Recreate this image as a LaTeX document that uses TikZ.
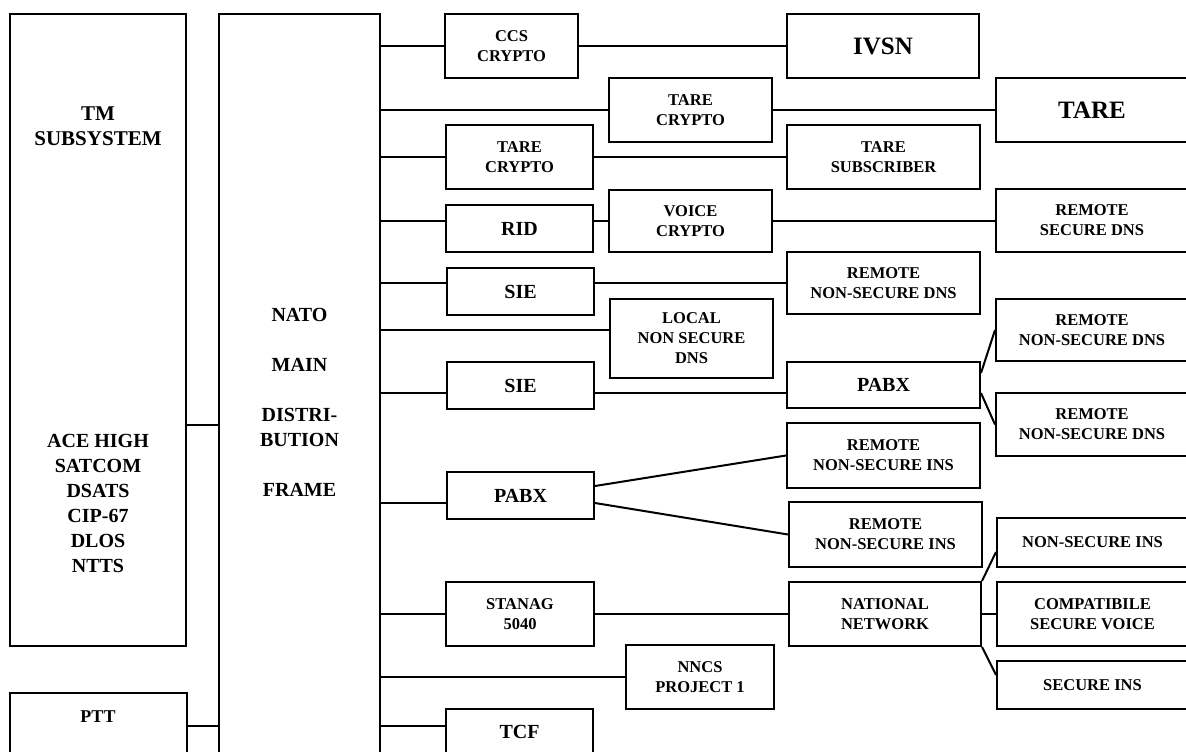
\documentclass[tikz,border=0pt]{standalone}
\usepackage{fontspec}
\setmainfont{Liberation Serif}
\newcommand\fmain{\fontsize{20}{25}\selectfont\bfseries}
\newcommand\fsm{\fontsize{16.5}{20}\selectfont\bfseries}
\newcommand\fbig{\fontsize{25}{30}\selectfont\bfseries}
\newcommand\ftm{\fontsize{21}{25}\selectfont\bfseries}
\newcommand\fptt{\fontsize{18}{22}\selectfont\bfseries}
\tikzset{
  box/.style={draw, line width=2pt, inner sep=0pt, align=center},
  wire/.style={line width=2pt},
  lbl/.style={inner sep=0pt, align=center}
}
\newcommand\bx[7]{\node[box,font=#7,minimum width={(#4-#2)*1pt},minimum height={(#5-#3)*1pt}] (#1) at ({(#2+#4)/2},{(#3+#5)/2}) {#6};}
\begin{document}
\begin{tikzpicture}[x={(1pt,0)},y={(0,-1pt)}]
\useasboundingbox (0,0) rectangle (1186,752);
\clip (0,0) rectangle (1186,752);
\fill[white] (0,0) rectangle (1186,752);
% left column
\bx{tm}{10}{14}{186}{646}{}{\fmain}
\node[lbl,font=\ftm] (tmlabel) at (98,126) {TM\\SUBSYSTEM};
\node[lbl,font=\fmain] (acelabel) at (98,503) {ACE HIGH\\SATCOM\\DSATS\\CIP-67\\DLOS\\NTTS};
\bx{ptt}{10}{693}{187}{770}{}{\fmain}
\node[lbl,font=\fptt] (pttlabel) at (98,717) {PTT};
% main frame
\bx{nato}{219}{14}{380}{770}{}{\fmain}
\node[lbl,font=\fmain] (natolabel) at (299.5,402) {NATO\\[25pt]MAIN\\[25pt]DISTRI-\\BUTION\\[25pt]FRAME};
% column 2
\bx{ccs}{445}{14}{578}{78}{CCS\\CRYPTO}{\fsm}
\bx{tarecA}{609}{78}{772}{142}{TARE\\CRYPTO}{\fsm}
\bx{tarecB}{446}{125}{593}{189}{TARE\\CRYPTO}{\fsm}
\bx{rid}{446}{205}{593}{252}{RID}{\fmain}
\bx{voice}{609}{190}{772}{252}{VOICE\\CRYPTO}{\fsm}
\bx{sieA}{447}{268}{594}{315}{SIE}{\fmain}
\bx{local}{610}{299}{773}{378}{LOCAL\\NON SECURE\\DNS}{\fsm}
\bx{sieB}{447}{362}{594}{409}{SIE}{\fmain}
\bx{pabxB}{447}{472}{594}{519}{PABX}{\fmain}
\bx{stanag}{446}{582}{594}{646}{STANAG\\5040}{\fsm}
\bx{nncs}{626}{645}{774}{709}{NNCS\\PROJECT 1}{\fsm}
\bx{tcf}{446}{709}{593}{754}{TCF}{\fmain}
% column 3
\bx{ivsn}{787}{14}{979}{78}{IVSN}{\fbig}
\bx{taresub}{787}{125}{980}{189}{TARE\\SUBSCRIBER}{\fsm}
\bx{rnsdnsA}{787}{252}{980}{314}{REMOTE\\NON-SECURE DNS}{\fsm}
\bx{pabxA}{787}{362}{980}{408}{PABX}{\fmain}
\bx{rnsinsA}{787}{423}{980}{488}{REMOTE\\NON-SECURE INS}{\fsm}
\bx{rnsinsB}{789}{502}{982}{567}{REMOTE\\NON-SECURE INS}{\fsm}
\bx{national}{789}{582}{981}{646}{NATIONAL\\NETWORK}{\fsm}
% column 4
\bx{tare}{996}{78}{1188}{142}{TARE}{\fbig}
\bx{rsdns}{996}{189}{1188}{252}{REMOTE\\SECURE DNS}{\fsm}
\bx{rnsdnsB}{996}{299}{1188}{361}{REMOTE\\NON-SECURE DNS}{\fsm}
\bx{rnsdnsC}{996}{393}{1188}{456}{REMOTE\\NON-SECURE DNS}{\fsm}
\bx{nsins}{997}{518}{1188}{567}{NON-SECURE INS}{\fsm}
\bx{compat}{997}{582}{1188}{646}{COMPATIBILE\\SECURE VOICE}{\fsm}
\bx{secins}{997}{661}{1188}{709}{SECURE INS}{\fsm}
% wire levels
\coordinate (tmw) at ([yshift=-95pt]tm.east);
\coordinate (pttw) at ([yshift=-9pt]pttlabel.center);
\coordinate (localw) at ([yshift=8.5pt]local.west);
\coordinate (siebw) at ([yshift=-7.5pt]sieB.west);
\coordinate (pabxbw) at ([yshift=-7.5pt]pabxB.west);
\coordinate (tcfw) at ([yshift=5.5pt]tcf.west);
% connectors
\draw[wire] (tmw) -- (nato.west |- tmw);
\draw[wire] (ptt.east |- pttw) -- (nato.west |- pttw);
\draw[wire] (nato.east |- ccs.west) -- (ccs.west);
\draw[wire] (ccs.east) -- (ivsn.west |- ccs.east);
\draw[wire] (nato.east |- tarecA.west) -- (tarecA.west);
\draw[wire] (tarecA.east) -- (tare.west |- tarecA.east);
\draw[wire] (nato.east |- tarecB.west) -- (tarecB.west);
\draw[wire] (tarecB.east) -- (taresub.west |- tarecB.east);
\draw[wire] (nato.east |- voice.west) -- (rid.west |- voice.west);
\draw[wire] (rid.east |- voice.west) -- (voice.west);
\draw[wire] (voice.east) -- (rsdns.west |- voice.east);
\draw[wire] (nato.east |- rnsdnsA.west) -- (sieA.west |- rnsdnsA.west);
\draw[wire] (sieA.east |- rnsdnsA.west) -- (rnsdnsA.west);
\draw[wire] (nato.east |- localw) -- (localw);
\draw[wire] (nato.east |- siebw) -- (siebw);
\draw[wire] (sieB.east |- siebw) -- (pabxA.west |- siebw);
\draw[wire] ([yshift=12pt]pabxA.east) -- (rnsdnsB.west);
\draw[wire] ([yshift=-8pt]pabxA.east) -- (rnsdnsC.west);
\draw[wire] (nato.east |- pabxbw) -- (pabxbw);
\draw[wire] ([yshift=9.5pt]pabxB.east) -- (rnsinsA.west);
\draw[wire] ([yshift=-7.5pt]pabxB.east) -- (rnsinsB.west);
\draw[wire] (nato.east |- stanag.west) -- (stanag.west);
\draw[wire] (stanag.east) -- (national.west |- stanag.east);
\draw[wire] (national.north east) -- ([yshift=-9.5pt]nsins.west);
\draw[wire] (national.east) -- (compat.west |- national.east);
\draw[wire] (national.south east) -- ([yshift=10pt]secins.west);
\draw[wire] (nato.east |- nncs.west) -- (nncs.west);
\draw[wire] (nato.east |- tcfw) -- (tcfw);
\end{tikzpicture}
\end{document}
